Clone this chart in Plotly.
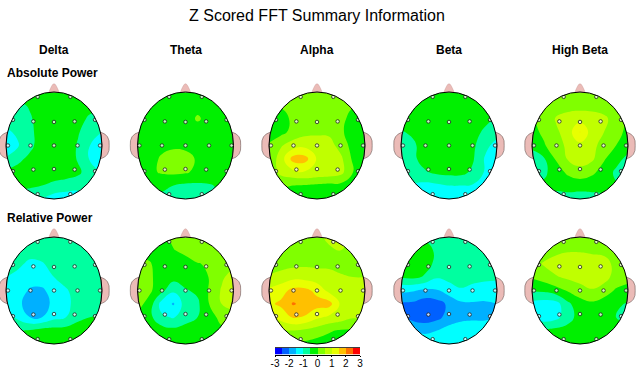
import numpy as np
import plotly.graph_objects as go

# ---------- data: z-scores, rows top to bottom, columns left to right ----------
bands = ["Delta", "Theta", "Alpha", "Beta", "High Beta"]
row_titles = ["Absolute Power", "Relative Power"]
colorbar_ticks = [-3, -2, -1, 0, 1, 2, 3]
band_colors = ["#0000FF", "#0060FF", "#00B0FF", "#00FFFF", "#00FFA0", "#00F000",
               "#80FF00", "#C0FF00", "#E8FF00", "#FFC000", "#FF7000", "#FF0000"]
band_mids = [-2.75, -2.25, -1.75, -1.25, -0.75, -0.25, 0.25, 0.75, 1.25, 1.75, 2.25, 2.75]
grid_u = [-1, -.75, -.5, -.25, 0, .25, .5, .75, 1]
grid_v = [-1, -.75, -.5, -.25, 0, .25, .5, .75, 1]
electrode_u = [-.34, .34, -.855, -.43, 0, .43, .855, -.96, -.49, 0, .49, .96, -.855, -.43, 0, .43, .855, -.34, .34]
electrode_v = [-.91, -.91, -.48, -.45, -.44, -.45, -.48, 0, 0, 0, 0, 0, .48, .45, .44, .45, .48, .91, .91]

delta_abs = [
    [-.3, -.3, -.3, -.3, -.3, -.3, -.3, -.3, -.3],
    [-.6, -.6, -.45, -.3, -.3, -.3, -.3, -.3, -.3],
    [-.8, -.75, -.55, -.3, -.2, -.2, -.3, -.6, -.7],
    [-1.1, -.9, -.6, -.3, -.2, -.2, -.45, -.8, -1.0],
    [-1.5, -1.05, -.6, -.3, -.2, -.2, -.55, -1.0, -1.3],
    [-.9, -.6, -.4, -.25, -.2, -.2, -.55, -1.05, -1.3],
    [-.4, -.35, -.3, -.25, -.2, -.25, -.4, -.75, -1.05],
    [-.35, -.35, -.4, -.5, -.65, -.75, -.8, -.85, -.9],
    [-.7, -.8, -.9, -1.0, -1.25, -1.3, -1.3, -1.0, -.8]]
theta_abs = [
    [-.2, -.2, -.2, -.2, -.2, -.2, -.2, -.2, -.2],
    [-.2, -.2, -.2, -.2, -.2, -.1, -.2, -.2, -.2],
    [-.2, -.2, -.2, -.2, -.15, .04, -.1, -.2, -.2],
    [-.2, -.2, -.2, -.15, -.15, -.15, -.15, -.2, -.2],
    [-.2, -.15, -.1, -.1, -.1, -.1, -.1, -.2, -.2],
    [-.2, -.15, .05, .25, .15, -.05, -.15, -.2, -.2],
    [-.2, -.1, .05, .1, .05, -.1, -.15, -.2, -.2],
    [-.3, -.35, -.4, -.5, -.6, -.6, -.55, -.4, -.3],
    [-.5, -.55, -.6, -.7, -.8, -.85, -.7, -.5, -.4]]
alpha_abs = [
    [.05, .05, .05, .05, .05, .05, .05, .05, .05],
    [.0, .05, .15, .15, .15, .15, .15, .05, .0],
    [-.2, -.2, .1, .25, .3, .3, .15, -.2, -.3],
    [-.2, -.15, .15, .35, .4, .4, .1, -.3, -.3],
    [.05, .45, .75, .85, .8, .7, .3, -.2, -.3],
    [.1, .75, 1.7, 1.7, .95, .85, .6, -.1, -.2],
    [.1, .65, .85, .95, .85, .8, .65, .0, -.1],
    [.05, .05, .0, -.05, -.1, -.15, -.15, -.2, -.2],
    [-.2, -.2, -.2, -.3, -.3, -.3, -.2, -.2, -.2]]
beta_abs = [
    [-.2, -.2, -.2, -.2, -.2, -.2, -.2, -.2, -.2],
    [-.2, -.2, -.2, -.2, -.2, -.2, -.2, -.2, -.2],
    [-.25, -.25, -.2, -.2, -.2, -.2, -.2, -.35, -.55],
    [-.55, -.4, -.2, -.2, -.2, -.2, -.3, -.6, -.8],
    [-.9, -.6, -.25, -.2, -.2, -.2, -.4, -.85, -1.2],
    [-.8, -.6, -.3, -.2, -.2, -.25, -.45, -1.05, -1.5],
    [-.8, -.75, -.55, -.4, -.35, -.35, -.6, -1.05, -1.7],
    [-1.0, -1.05, -1.15, -1.1, -1.0, -1.0, -1.05, -1.2, -1.3],
    [-1.2, -1.3, -1.35, -1.4, -1.4, -1.35, -1.3, -1.2, -1.1]]
highbeta_abs = [
    [.0, .0, .05, .05, .05, .05, .05, .0, .0],
    [.1, .1, .15, .25, .3, .25, .15, .0, -.1],
    [-.05, .2, .55, .75, .8, .8, .65, .2, -.1],
    [-.15, .1, .4, .75, 1.52, .75, .5, .2, -.15],
    [-.4, -.05, .3, .6, .85, .65, .3, .0, -.3],
    [-.7, -.55, .05, .55, .75, .6, .05, -.3, -.65],
    [-.75, -.6, -.25, .1, .3, .1, -.2, -.6, -1.0],
    [-.45, -.4, -.4, -.3, -.3, -.3, -.35, -.45, -.6],
    [-.6, -.6, -.65, -.7, -.75, -.7, -.6, -.5, -.4]]
delta_rel = [
    [-.75, -.75, -.75, -.75, -.75, -.75, -.75, -.75, -.75],
    [-.7, -.7, -.7, -.7, -.7, -.7, -.7, -.7, -.7],
    [-.7, -.85, -1.15, -1.05, -.8, -.7, -.65, -.6, -.6],
    [-1.0, -1.2, -1.3, -1.2, -1.0, -.8, -.7, -.65, -.6],
    [-1.15, -1.3, -1.55, -1.6, -1.25, -1.05, -.8, -.7, -.65],
    [-1.1, -1.35, -1.8, -1.85, -1.3, -1.1, -.85, -.7, -.65],
    [-.75, -1.1, -1.5, -1.5, -1.15, -1.0, -.6, -.5, -.45],
    [-.6, -.55, -.45, -.3, -.3, -.3, -.3, -.3, -.3],
    [-.3, -.3, -.3, -.3, -.3, -.3, -.3, -.3, -.3]]
theta_rel = [
    [-.2, -.2, -.15, .1, .2, .2, .2, .2, .1],
    [-.2, -.2, -.15, -.02, .1, .25, .25, .25, .2],
    [.2, .05, -.25, -.25, -.15, -.02, .05, .3, .35],
    [.35, .1, -.25, -.3, -.25, -.2, .02, .4, .75],
    [.35, .1, -.35, -.9, -.55, -.4, .05, .55, .9],
    [.2, -.2, -1.2, -1.55, -.75, -.6, .02, .5, .75],
    [-.1, -.35, -.9, -1.05, -.65, -.5, -.2, .15, .2],
    [-.1, -.2, -.25, -.35, -.35, -.3, -.2, -.1, .0],
    [-.2, -.2, -.2, -.2, -.2, -.2, -.2, -.2, -.2]]
alpha_rel = [
    [.2, .2, .25, .3, .3, .7, .8, .3, .2],
    [.25, .25, .3, .3, .3, .35, .5, .3, .2],
    [.3, .3, .35, .4, .4, .4, .35, .35, .3],
    [.55, .7, .85, .8, .7, .65, .55, .5, .5],
    [1.1, 1.3, 1.65, 1.65, 1.35, .85, .75, .7, .65],
    [1.4, 1.6, 2.05, 1.85, 1.7, 1.7, .9, .75, .7],
    [.85, 1.2, 1.55, 1.45, 1.1, .9, .75, .55, .55],
    [.5, .5, .5, .4, .25, .05, -.05, -.05, .2],
    [.3, .2, .05, -.1, -.2, -.2, -.15, .0, .1]]
beta_rel = [
    [-.6, -.6, -.6, -.6, -.6, -.6, -.6, -.6, -.55],
    [-.5, -.3, -.3, -.6, -.7, -.7, -.7, -.7, -.7],
    [-.3, -.2, -.35, -.6, -.7, -.75, -.75, -.75, -.75],
    [-.45, -.4, -.55, -.95, -.85, -.8, -.8, -.85, -.9],
    [-1.4, -1.45, -1.6, -1.55, -1.25, -1.05, -1.2, -1.3, -1.3],
    [-2.0, -2.1, -2.3, -2.2, -1.9, -1.6, -1.55, -1.55, -1.5],
    [-1.8, -2.2, -2.3, -2.15, -1.8, -1.65, -1.6, -1.6, -1.5],
    [-1.2, -1.5, -1.6, -1.5, -1.3, -1.2, -1.2, -1.2, -1.15],
    [-1.2, -1.2, -1.2, -1.2, -1.2, -1.2, -1.2, -1.2, -1.2]]
highbeta_rel = [
    [.15, .15, .15, .15, .15, .15, .15, .15, .15],
    [.2, .25, .35, .45, .45, .4, .35, .25, .2],
    [.3, .55, .75, .8, .8, .75, .7, .35, .2],
    [.05, .25, .45, .6, .75, .85, .75, .25, .1],
    [-.45, -.4, -.2, .05, .25, .45, .2, -.05, -.1],
    [-1.15, -1.25, -1.2, -.6, -.2, -.1, -.2, -.4, -.55],
    [-1.1, -1.3, -1.15, -.7, -.3, -.25, -.3, -.5, -.65],
    [-.4, -.4, -.35, -.3, -.25, -.25, -.25, -.25, -.3],
    [-.25, -.25, -.25, -.25, -.25, -.25, -.25, -.25, -.25]]

maps = [[delta_abs, theta_abs, alpha_abs, beta_abs, highbeta_abs],
        [delta_rel, theta_rel, alpha_rel, beta_rel, highbeta_rel]]

# ---------- layout constants ----------
W, H = 640, 368
CX = [54, 185.5, 317, 449, 580]
CY = [145.5, 290.5]
RX, RY = 48, 53.5
PAD = 1.2
PINK = "#EBBBB7"
FONT = "Liberation Sans, Arial, sans-serif"

scale = []
for i in range(12):
    scale += [[i / 12, band_colors[i]], [(i + 1) / 12, band_colors[i]]]

t = np.linspace(0, 2 * np.pi, 121)
hole = "M" + " L".join(f"{np.cos(a):.4f},{np.sin(a):.4f}" for a in t[:-1]) + " Z"
mask = f"M-1.06,-1.06 L1.06,-1.06 L1.06,1.06 L-1.06,1.06 Z " + hole

fig = go.Figure()
layout = {}
shapes = []
k = 0
for r, cy in enumerate(CY):
    for c, cx in enumerate(CX):
        k += 1
        xa, ya = ("x", "y") if k == 1 else (f"x{k}", f"y{k}")
        left = min(PAD, cx / RX)
        layout[("xaxis" if k == 1 else f"xaxis{k}")] = dict(
            domain=[(cx - left * RX) / W, (cx + PAD * RX) / W], range=[-left, PAD],
            visible=False, fixedrange=True, anchor=ya)
        layout[("yaxis" if k == 1 else f"yaxis{k}")] = dict(
            domain=[1 - (cy + PAD * RY) / H, 1 - (cy - PAD * RY) / H], range=[PAD, -PAD],
            visible=False, fixedrange=True, anchor=xa)
        fig.add_trace(go.Contour(
            x=grid_u, y=grid_v, z=maps[r][c], xaxis=xa, yaxis=ya, showscale=False,
            colorscale=scale, zmin=-3, zmax=3, autocontour=False,
            contours=dict(start=-3, end=3, size=.5, coloring="fill", showlines=False),
            line=dict(width=0, smoothing=1.3), hoverinfo="skip"))
        fig.add_trace(go.Scatter(
            x=electrode_u, y=electrode_v, xaxis=xa, yaxis=ya, mode="markers", showlegend=False,
            marker=dict(size=3.5, color="rgba(255,255,255,.75)", line=dict(color="#222222", width=.8)),
            hoverinfo="skip"))
        ref = dict(xref=xa, yref=ya, layer="above")
        shapes.append(dict(type="path", path=mask, fillcolor="white", line=dict(width=0), **ref))
        shapes.append(dict(type="path", path="M-.11,-.99 Q-.08,-1.06 -.05,-1.11 Q0,-1.2 .05,-1.11 Q.08,-1.06 .11,-.99 Q0,-1.005 -.11,-.99 Z",
                           fillcolor=PINK, line=dict(width=.4, color="#C9A09C"), **ref))
        for s in (-1, 1):
            shapes.append(dict(type="path",
                path=f"M{s*.968},-.25 Q{s*1.17},-.2 {s*1.15},0 Q{s*1.17},.2 {s*.968},.25 Q{s*1.03},0 {s*.968},-.25 Z",
                fillcolor=PINK, line=dict(width=.6, color="#6A5A58"), **ref))
        shapes.append(dict(type="circle", x0=-1, x1=1, y0=-1, y1=1,
                           line=dict(color="black", width=1), fillcolor="rgba(0,0,0,0)", **ref))

# colour key on its own axis
k += 1
layout[f"xaxis{k}"] = dict(domain=[275 / W, 360 / W], range=[-3, 3], anchor=f"y{k}", side="bottom",
                           tickmode="array", tickvals=colorbar_ticks,
                           ticktext=[str(v) for v in colorbar_ticks], ticks="outside", ticklen=1,
                           ticklabelstandoff=-2,
                           tickwidth=1, tickcolor="black", showline=True, linecolor="black", mirror=True,
                           showgrid=False, zeroline=False, fixedrange=True,
                           tickfont=dict(family=FONT, size=10, color="black"))
layout[f"yaxis{k}"] = dict(domain=[1 - 354.5 / H, 1 - 347.5 / H], range=[0, 1], visible=False,
                           fixedrange=True, anchor=f"x{k}")
fig.add_trace(go.Heatmap(x=band_mids, y=[.5], z=[band_mids], xaxis=f"x{k}", yaxis=f"y{k}", showscale=False,
                         colorscale=scale, zmin=-3, zmax=3, hoverinfo="skip", xgap=0))

def note(text, x, y, size, bold=False, anchor="center"):
    return dict(text=f"<b>{text}</b>" if bold else text, x=x / W, y=1 - y / H, xref="paper", yref="paper",
                xanchor=anchor, yanchor="middle", showarrow=False,
                font=dict(family=FONT, size=size, color="black"))

ann = [note("Z Scored FFT Summary Information", 316.5, 15.5, 16)]
ann += [note(b, x, 50, 12, True) for b, x in zip(bands, CX)]
ann += [note(t_, 5, y, 12, True, "left") for t_, y in zip(row_titles, [73.5, 218])]

fig.update_layout(width=W, height=H, margin=dict(l=0, r=0, t=0, b=0, autoexpand=False), paper_bgcolor="white",
                  plot_bgcolor="white", showlegend=False, shapes=shapes, annotations=ann, **layout)
fig.write_html("out.html", config=dict(displayModeBar=False),
               post_script="document.body.style.margin='0';document.documentElement.style.overflow='hidden';")
